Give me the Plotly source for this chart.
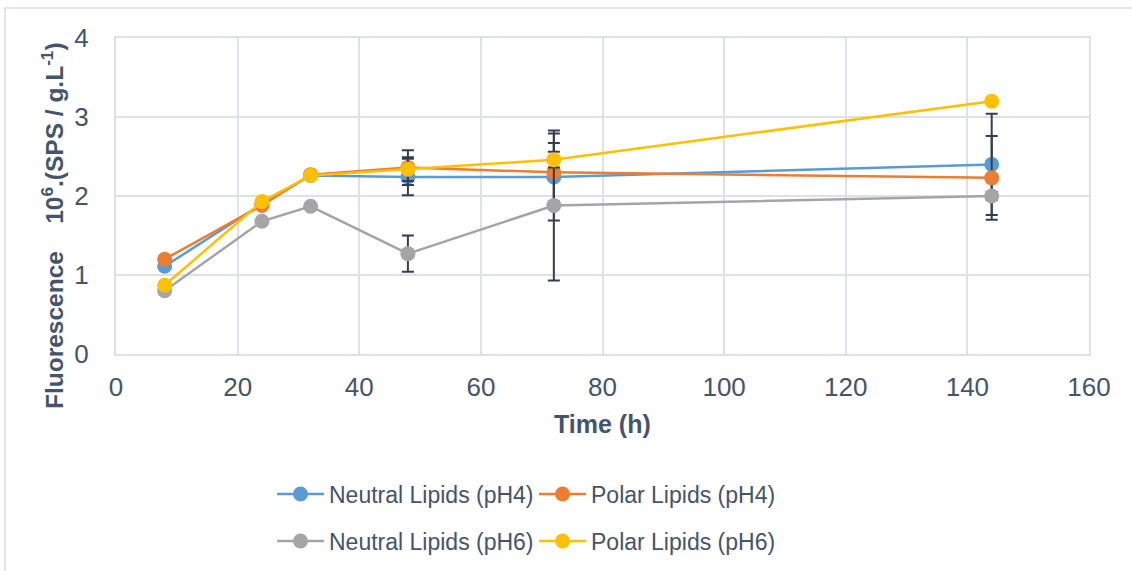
import plotly.graph_objects as go

# Sampling times (h)
time_h = [8, 24, 32, 48, 72, 144]

# Fluorescence 10^6 (SPS / g.L-1) and standard deviations per series
neutral_ph4 = [1.11, 1.90, 2.26, 2.24, 2.24, 2.40]
neutral_ph4_sd = [0.03, 0.03, 0.02, 0.23, 0.55, 0.64]

polar_ph4 = [1.20, 1.88, 2.27, 2.36, 2.30, 2.23]
polar_ph4_sd = [0.02, 0.03, 0.02, 0.22, 0.37, 0.53]

neutral_ph6 = [0.80, 1.68, 1.87, 1.27, 1.88, 2.00]
neutral_ph6_sd = [0.02, 0.03, 0.02, 0.23, 0.95, 0.05]

polar_ph6 = [0.87, 1.93, 2.26, 2.34, 2.46, 3.20]
polar_ph6_sd = [0.02, 0.02, 0.02, 0.15, 0.10, 0.02]

x_ticks = [0, 20, 40, 60, 80, 100, 120, 140, 160]
y_ticks = [0, 1, 2, 3, 4]

FONT = "Liberation Sans, Arial, sans-serif"
TEXT = "#44546A"
GRID = "#DDE1E8"
ERR = "#333F50"

series = [
    ("Neutral Lipids (pH4)", neutral_ph4, neutral_ph4_sd, "#5B9BD5", "legend"),
    ("Polar Lipids (pH4)", polar_ph4, polar_ph4_sd, "#ED7D31", "legend"),
    ("Neutral Lipids (pH6)", neutral_ph6, neutral_ph6_sd, "#A5A5A5", "legend2"),
    ("Polar Lipids (pH6)", polar_ph6, polar_ph6_sd, "#FFC000", "legend2"),
]

fig = go.Figure()
for name, vals, sd, color, leg in series:
    fig.add_trace(go.Scatter(
        x=time_h, y=vals, name=name, mode="lines+markers",
        line=dict(color=color, width=2.5),
        marker=dict(color=color, size=15),
        error_y=dict(type="data", array=sd, visible=True,
                     color=ERR, thickness=2, width=6),
        legend=leg,
    ))

legend_common = dict(
    orientation="h", xanchor="left", yanchor="middle",
    font=dict(family=FONT, size=23, color=TEXT),
    bgcolor="rgba(0,0,0,0)", entrywidth=200, itemwidth=47,
)

fig.update_layout(
    width=1132, height=571,
    margin=dict(l=116, r=43, t=38, b=217, autoexpand=False),
    paper_bgcolor="white", plot_bgcolor="white",
    font=dict(family=FONT, color=TEXT),
    showlegend=True,
    legend=dict(x=(272 - 116) / 973, y=(354 - 494) / 316, **legend_common),
    legend2=dict(x=(272 - 116) / 973, y=(354 - 541) / 316, **legend_common),
    xaxis=dict(
        range=[0, 160], tickvals=x_ticks, ticktext=[str(v) for v in x_ticks],
        showgrid=True, gridcolor=GRID, gridwidth=2,
        showline=True, linecolor=GRID, linewidth=2, mirror=True,
        zeroline=False, ticks="", ticklabelstandoff=9,
        tickfont=dict(family=FONT, size=26, color=TEXT),
    ),
    yaxis=dict(
        range=[0, 4], tickvals=y_ticks, ticktext=[str(v) for v in y_ticks],
        showgrid=True, gridcolor=GRID, gridwidth=2,
        showline=True, linecolor=GRID, linewidth=2, mirror=True,
        zeroline=False, ticks="", ticklabelstandoff=20,
        tickfont=dict(family=FONT, size=26, color=TEXT),
    ),
    annotations=[
        dict(text="<b>Time (h)</b>", xref="paper", yref="paper",
             x=0.5, y=(354 - 424) / 316, xanchor="center", yanchor="middle",
             showarrow=False, font=dict(family=FONT, size=25, color=TEXT)),
        dict(text="<b>Fluorescence\u00a0\u00a0\u00a0\u00a010<sup>6</sup>.(SPS / g.L<sup>-1</sup>)</b>",
             xref="paper", yref="paper", textangle=-90,
             x=(52 - 116) / 973, y=(354 - 226) / 316,
             xanchor="center", yanchor="middle",
             showarrow=False, font=dict(family=FONT, size=24.5, color=TEXT)),
    ],
    shapes=[
        dict(type="rect", xref="paper", yref="paper", layer="below",
             x0=(5 - 116) / 973, x1=(1140 - 116) / 973,
             y0=(354 - 580) / 316, y1=(354 - 8) / 316,
             line=dict(color="#D9DDE5", width=1.5)),
    ],
)

fig.write_html("out.html")
